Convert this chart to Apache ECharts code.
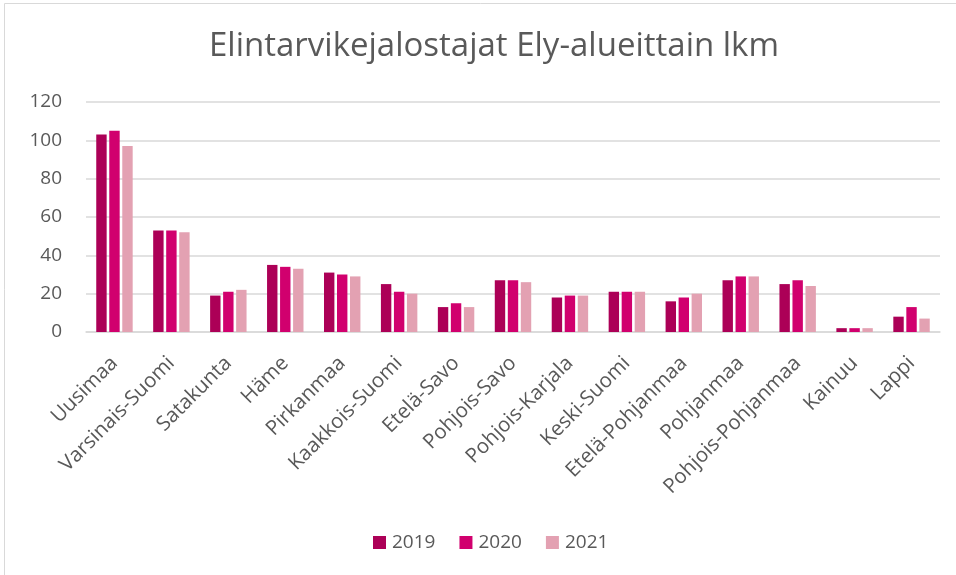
<!DOCTYPE html>
<html>
<head>
<meta charset="utf-8">
<script src="https://cdn.jsdelivr.net/npm/echarts@6/dist/echarts.min.js"></script>
<style>
html,body{margin:0;padding:0;background:#fff;}
#chart{width:956px;height:575px;}
</style>
</head>
<body>
<div id="chart"></div>
<script>
var categories = ['Uusimaa','Varsinais-Suomi','Satakunta','Häme','Pirkanmaa','Kaakkois-Suomi','Etelä-Savo','Pohjois-Savo','Pohjois-Karjala','Keski-Suomi','Etelä-Pohjanmaa','Pohjanmaa','Pohjois-Pohjanmaa','Kainuu','Lappi'];
var values2019 = [103, 53, 19, 35, 31, 25, 13, 27, 18, 21, 16, 27, 25, 2, 8];
var values2020 = [105, 53, 21, 34, 30, 21, 15, 27, 19, 21, 18, 29, 27, 2, 13];
var values2021 = [97, 52, 22, 33, 29, 20, 13, 26, 19, 21, 20, 29, 24, 2, 7];
var colorList = ['#AC0057', '#D1006E', '#E3A1B2'];

var myChart = echarts.init(document.getElementById('chart'));
var font = 'Open Sans';
var option = {
	color: colorList,
	title: {
		text: 'Elintarvikejalostajat Ely-alueittain lkm',
		left: 204,
		top: 25,
		textStyle: {
			fontFamily: font,
			fontSize: 33,
			fontWeight: 'normal',
			color: '#595959'
		}
	},
	legend: {
		bottom: 18,
		left: 368,
		itemWidth: 13,
		itemHeight: 13,
		itemGap: 24,
		icon: 'rect',
		textStyle: {
			fontFamily: font,
			fontSize: 19,
			color: '#595959',
			padding: [0, 0, 0, 1]
		},
		data: ['2019', '2020', '2021']
	},
	grid: {
		left: 86,
		right: 16,
		top: 102,
		bottom: 243
	},
	xAxis: {
		type: 'category',
		data: categories,
		axisLine: { lineStyle: { color: '#D9D9D9', width: 1.5 } },
		axisTick: { show: false },
		axisLabel: {
			rotate: 45,
			interval: 0,
			margin: 28,
			fontFamily: font,
			fontSize: 20.5,
			color: '#595959'
		}
	},
	yAxis: {
		type: 'value',
		min: 0,
		max: 120,
		interval: 20,
		axisLine: { show: false },
		axisTick: { show: false },
		axisLabel: {
			margin: 24,
			fontFamily: font,
			fontSize: 19,
			color: '#595959'
		},
		splitLine: { lineStyle: { color: '#D9D9D9', width: 1.5 } }
	},
	series: [
		{ name: '2019', type: 'bar', data: values2019, barGap: '25%', barCategoryGap: '36%' },
		{ name: '2020', type: 'bar', data: values2020, barGap: '25%', barCategoryGap: '36%' },
		{ name: '2021', type: 'bar', data: values2021, barGap: '25%', barCategoryGap: '36%' }
	],
	graphic: [
		{
			type: 'rect',
			shape: { x: 4.5, y: 3.5, width: 960, height: 600 },
			style: { fill: 'none', stroke: '#D9D9D9', lineWidth: 1 },
			silent: true
		}
	]
};
myChart.setOption(option, true);
</script>
</body>
</html>
